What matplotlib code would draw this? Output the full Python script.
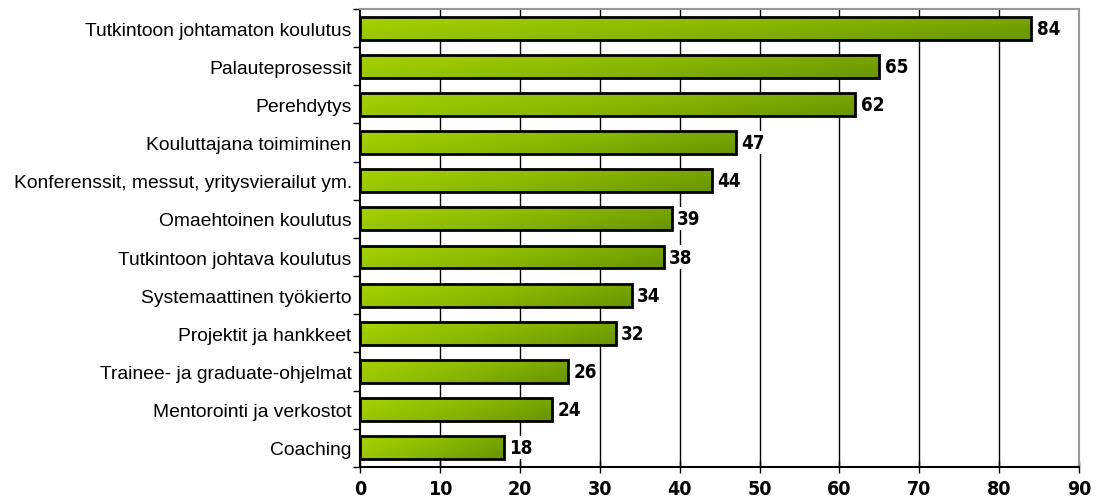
import numpy as np
import matplotlib
matplotlib.use('Agg')
import matplotlib.pyplot as plt
from matplotlib.colors import LinearSegmentedColormap

# Development methods and share of respondents (%)
labels = ['Tutkintoon johtamaton koulutus', 'Palauteprosessit', 'Perehdytys',
          'Kouluttajana toimiminen', 'Konferenssit, messut, yritysvierailut ym.',
          'Omaehtoinen koulutus', 'Tutkintoon johtava koulutus',
          'Systemaattinen työkierto', 'Projektit ja hankkeet',
          'Trainee- ja graduate-ohjelmat', 'Mentorointi ja verkostot', 'Coaching']
values = [84, 65, 62, 47, 44, 39, 38, 34, 32, 26, 24, 18]
xticks = [0, 10, 20, 30, 40, 50, 60, 70, 80, 90]

fig = plt.figure(figsize=(10.97, 5.02), dpi=100)
ax = fig.add_axes([0.3282, 0.068, 0.6555, 0.912])

n = len(labels)
ypos = np.arange(n)[::-1]
h = 0.6

cmap = LinearSegmentedColormap.from_list('grn', ['#a6d200', '#8ab800', '#6a9400'])
gx, gy = np.meshgrid(np.linspace(0, 1, 200), np.linspace(0, 1, 20))
grad = 0.75 * gx + 0.25 * gy

ax.set_xlim(0, 90)
ax.set_ylim(-0.5, n - 0.5)

for y, v in zip(ypos, values):
    bar = ax.barh(y, v, height=h, color='none', edgecolor='black', linewidth=2, zorder=3)[0]
    im = ax.imshow(grad, cmap=cmap, aspect='auto', origin='upper',
                   extent=[0, v, y - h / 2, y + h / 2], zorder=2)
    im.set_clip_path(bar)
    # value label on a white patch so the gridlines stop around it
    ax.text(v + 0.7, y, str(v), va='center', ha='left', fontsize=13.5,
            fontweight='bold', fontstretch='condensed', family='DejaVu Sans',
            bbox=dict(facecolor='white', edgecolor='none', pad=1.5), zorder=4)

ax.set_yticks(ypos)
ax.set_yticklabels(labels, fontsize=13.9, family=['Liberation Sans', 'DejaVu Sans'])
ax.set_yticks(np.arange(n + 1) - 0.5, minor=True)
ax.tick_params(axis='y', which='major', length=0, pad=6)
ax.tick_params(axis='y', which='minor', length=5, width=1, color='black', direction='out')

ax.set_xticks(xticks)
ax.set_xticklabels([str(t) for t in xticks], fontsize=14, fontweight='bold',
                   fontstretch='condensed', family='DejaVu Sans')
ax.tick_params(axis='x', length=8, width=1, direction='inout', pad=5)

for t in xticks[1:-1]:
    ax.axvline(t, color='black', linewidth=1, zorder=1)

ax.spines['left'].set_linewidth(1.5)
ax.spines['bottom'].set_linewidth(1.5)
for s in ('top', 'right'):
    ax.spines[s].set_color('#999999')
    ax.spines[s].set_linewidth(1.5)

fig.savefig('out.png', dpi=100)
